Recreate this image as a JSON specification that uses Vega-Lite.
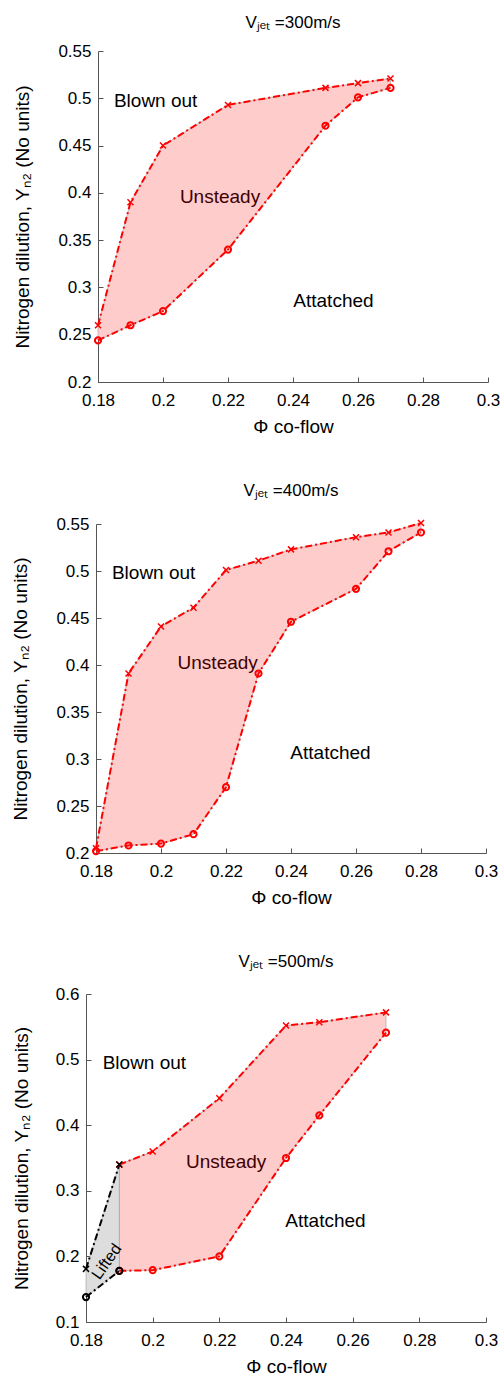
{
  "$schema": "https://vega.github.io/schema/vega-lite/v6.json",
  "background": "white",
  "padding": {"top": 14, "left": 11, "right": 0, "bottom": 0},
  "vconcat": [
    {
      "title": {"text": "Vⱼₑₜ =300m/s", "offset": 10, "dx": 6},
      "width": 402,
      "height": 331,
      "layer": [
        {
          "data": {"name": "bounds"},
          "transform": [{"filter": "datum.panel == '300'"}],
          "mark": {"type": "area", "fill": "#ffcccc", "stroke": "#9a9a9a", "strokeWidth": 0.6},
          "encoding": {
            "x": {"field": "phi", "type": "quantitative", "title": "Φ co-flow", "scale": {"domain": [0.18, 0.3], "range": [12, 402], "nice": false, "zero": false}, "axis": {"values": [0.18, 0.2, 0.22, 0.24, 0.26, 0.28, 0.3]}},
            "y": {"field": "upper", "type": "quantitative", "title": "Nitrogen dilution, Yₙ₂  (No units)", "scale": {"domain": [0.2, 0.55], "nice": false, "zero": false}, "axis": {"values": [0.2, 0.25, 0.3, 0.35, 0.4, 0.45, 0.5, 0.55], "offset": -12, "titlePadding": 25}},
            "y2": {"field": "lower"}
          }
        },
        {
          "data": {"name": "bounds"},
          "transform": [{"filter": "datum.panel == '300'"}],
          "mark": {"type": "line", "color": "#ff0000", "strokeWidth": 2, "strokeDash": [7, 3, 2, 3]},
          "encoding": {
            "x": {"field": "phi", "type": "quantitative", "title": "Φ co-flow"},
            "y": {"field": "upper", "type": "quantitative", "title": "Nitrogen dilution, Yₙ₂  (No units)"}
          }
        },
        {
          "data": {"name": "bounds"},
          "transform": [{"filter": "datum.panel == '300'"}],
          "mark": {"type": "line", "color": "#ff0000", "strokeWidth": 2, "strokeDash": [7, 3, 2, 3]},
          "encoding": {
            "x": {"field": "phi", "type": "quantitative", "title": "Φ co-flow"},
            "y": {"field": "lower", "type": "quantitative", "title": "Nitrogen dilution, Yₙ₂  (No units)"}
          }
        },
        {
          "data": {"name": "bounds"},
          "transform": [{"filter": "datum.panel == '300'"}],
          "mark": {"type": "point", "shape": "M-1,-1L1,1M-1,1L1,-1", "filled": false, "stroke": "#ff0000", "strokeWidth": 1.5, "size": 36, "opacity": 1},
          "encoding": {
            "x": {"field": "phi", "type": "quantitative", "title": "Φ co-flow"},
            "y": {"field": "upper", "type": "quantitative", "title": "Nitrogen dilution, Yₙ₂  (No units)"}
          }
        },
        {
          "data": {"name": "bounds"},
          "transform": [{"filter": "datum.panel == '300'"}],
          "mark": {"type": "point", "shape": "circle", "filled": false, "stroke": "#ff0000", "strokeWidth": 2, "size": 38, "opacity": 1},
          "encoding": {
            "x": {"field": "phi", "type": "quantitative", "title": "Φ co-flow"},
            "y": {"field": "lower", "type": "quantitative", "title": "Nitrogen dilution, Yₙ₂  (No units)"}
          }
        },
        {
          "data": {"name": "labels"},
          "transform": [{"filter": "datum.panel == '300'"}],
          "mark": {"type": "text", "align": "left", "baseline": "middle", "fontSize": 19, "font": "Liberation Sans"},
          "encoding": {
            "x": {"field": "phi", "type": "quantitative", "title": "Φ co-flow"},
            "y": {"field": "y", "type": "quantitative", "title": "Nitrogen dilution, Yₙ₂  (No units)"},
            "text": {"field": "label"},
            "color": {"field": "tone", "type": "nominal", "scale": {"domain": ["dark", "black"], "range": ["#400000", "#000000"]}, "legend": null}
          }
        }
      ]
    },
    {
      "title": {"text": "Vⱼₑₜ =400m/s", "offset": 15, "dx": 5},
      "width": 400,
      "height": 329,
      "layer": [
        {
          "data": {"name": "bounds"},
          "transform": [{"filter": "datum.panel == '400'"}],
          "mark": {"type": "area", "fill": "#ffcccc", "stroke": "#9a9a9a", "strokeWidth": 0.6},
          "encoding": {
            "x": {"field": "phi", "type": "quantitative", "title": "Φ co-flow", "scale": {"domain": [0.18, 0.3], "range": [10, 400], "nice": false, "zero": false}, "axis": {"values": [0.18, 0.2, 0.22, 0.24, 0.26, 0.28, 0.3]}},
            "y": {"field": "upper", "type": "quantitative", "title": "Nitrogen dilution, Yₙ₂  (No units)", "scale": {"domain": [0.2, 0.55], "nice": false, "zero": false}, "axis": {"values": [0.2, 0.25, 0.3, 0.35, 0.4, 0.45, 0.5, 0.55], "offset": -10, "titlePadding": 25}},
            "y2": {"field": "lower"}
          }
        },
        {
          "data": {"name": "bounds"},
          "transform": [{"filter": "datum.panel == '400'"}],
          "mark": {"type": "line", "color": "#ff0000", "strokeWidth": 2, "strokeDash": [7, 3, 2, 3]},
          "encoding": {
            "x": {"field": "phi", "type": "quantitative", "title": "Φ co-flow"},
            "y": {"field": "upper", "type": "quantitative", "title": "Nitrogen dilution, Yₙ₂  (No units)"}
          }
        },
        {
          "data": {"name": "bounds"},
          "transform": [{"filter": "datum.panel == '400'"}],
          "mark": {"type": "line", "color": "#ff0000", "strokeWidth": 2, "strokeDash": [7, 3, 2, 3]},
          "encoding": {
            "x": {"field": "phi", "type": "quantitative", "title": "Φ co-flow"},
            "y": {"field": "lower", "type": "quantitative", "title": "Nitrogen dilution, Yₙ₂  (No units)"}
          }
        },
        {
          "data": {"name": "bounds"},
          "transform": [{"filter": "datum.panel == '400'"}],
          "mark": {"type": "point", "shape": "M-1,-1L1,1M-1,1L1,-1", "filled": false, "stroke": "#ff0000", "strokeWidth": 1.5, "size": 36, "opacity": 1},
          "encoding": {
            "x": {"field": "phi", "type": "quantitative", "title": "Φ co-flow"},
            "y": {"field": "upper", "type": "quantitative", "title": "Nitrogen dilution, Yₙ₂  (No units)"}
          }
        },
        {
          "data": {"name": "bounds"},
          "transform": [{"filter": "datum.panel == '400'"}],
          "mark": {"type": "point", "shape": "circle", "filled": false, "stroke": "#ff0000", "strokeWidth": 2, "size": 38, "opacity": 1},
          "encoding": {
            "x": {"field": "phi", "type": "quantitative", "title": "Φ co-flow"},
            "y": {"field": "lower", "type": "quantitative", "title": "Nitrogen dilution, Yₙ₂  (No units)"}
          }
        },
        {
          "data": {"name": "labels"},
          "transform": [{"filter": "datum.panel == '400'"}],
          "mark": {"type": "text", "align": "left", "baseline": "middle", "fontSize": 19, "font": "Liberation Sans"},
          "encoding": {
            "x": {"field": "phi", "type": "quantitative", "title": "Φ co-flow"},
            "y": {"field": "y", "type": "quantitative", "title": "Nitrogen dilution, Yₙ₂  (No units)"},
            "text": {"field": "label"},
            "color": {"field": "tone", "type": "nominal", "scale": {"domain": ["dark", "black"], "range": ["#400000", "#000000"]}, "legend": null}
          }
        }
      ]
    },
    {
      "title": {"text": "Vⱼₑₜ =500m/s", "offset": 14},
      "width": 400,
      "height": 328,
      "layer": [
        {
          "data": {"name": "bounds"},
          "transform": [{"filter": "datum.panel == '500'"}],
          "mark": {"type": "area", "stroke": "#9a9a9a", "strokeWidth": 0.6},
          "encoding": {
            "x": {"field": "phi", "type": "quantitative", "title": "Φ co-flow", "scale": {"domain": [0.18, 0.3], "nice": false, "zero": false}, "axis": {"values": [0.18, 0.2, 0.22, 0.24, 0.26, 0.28, 0.3]}},
            "y": {"field": "upper", "type": "quantitative", "title": "Nitrogen dilution, Yₙ₂  (No units)", "scale": {"domain": [0.1, 0.6], "nice": false, "zero": false}, "axis": {"values": [0.1, 0.2, 0.3, 0.4, 0.5, 0.6], "titlePadding": 24}},
            "y2": {"field": "lower"},
            "fill": {"field": "region", "type": "nominal", "scale": {"domain": ["unsteady", "lifted"], "range": ["#ffcccc", "#dddddd"]}, "legend": null}
          }
        },
        {
          "data": {"name": "bounds"},
          "transform": [{"filter": "datum.panel == '500'"}],
          "mark": {"type": "line", "strokeWidth": 2, "strokeDash": [7, 3, 2, 3]},
          "encoding": {
            "x": {"field": "phi", "type": "quantitative", "title": "Φ co-flow"},
            "y": {"field": "upper", "type": "quantitative", "title": "Nitrogen dilution, Yₙ₂  (No units)"},
            "stroke": {"field": "region", "type": "nominal", "scale": {"domain": ["unsteady", "lifted"], "range": ["#ff0000", "#000000"]}, "legend": null}
          }
        },
        {
          "data": {"name": "bounds"},
          "transform": [{"filter": "datum.panel == '500'"}],
          "mark": {"type": "line", "strokeWidth": 2, "strokeDash": [7, 3, 2, 3]},
          "encoding": {
            "x": {"field": "phi", "type": "quantitative", "title": "Φ co-flow"},
            "y": {"field": "lower", "type": "quantitative", "title": "Nitrogen dilution, Yₙ₂  (No units)"},
            "stroke": {"field": "region", "type": "nominal", "scale": {"domain": ["unsteady", "lifted"], "range": ["#ff0000", "#000000"]}, "legend": null}
          }
        },
        {
          "data": {"name": "bounds"},
          "transform": [{"filter": "datum.panel == '500'"}],
          "mark": {"type": "point", "shape": "M-1,-1L1,1M-1,1L1,-1", "filled": false, "strokeWidth": 1.5, "size": 36, "opacity": 1},
          "encoding": {
            "x": {"field": "phi", "type": "quantitative", "title": "Φ co-flow"},
            "y": {"field": "upper", "type": "quantitative", "title": "Nitrogen dilution, Yₙ₂  (No units)"},
            "stroke": {"field": "region", "type": "nominal", "scale": {"domain": ["unsteady", "lifted"], "range": ["#ff0000", "#000000"]}, "legend": null}
          }
        },
        {
          "data": {"name": "bounds"},
          "transform": [{"filter": "datum.panel == '500'"}],
          "mark": {"type": "point", "shape": "circle", "filled": false, "strokeWidth": 2, "size": 38, "opacity": 1},
          "encoding": {
            "x": {"field": "phi", "type": "quantitative", "title": "Φ co-flow"},
            "y": {"field": "lower", "type": "quantitative", "title": "Nitrogen dilution, Yₙ₂  (No units)"},
            "stroke": {"field": "region", "type": "nominal", "scale": {"domain": ["unsteady", "lifted"], "range": ["#ff0000", "#000000"]}, "legend": null}
          }
        },
        {
          "data": {"name": "labels"},
          "transform": [{"filter": "datum.panel == '500' && datum.label != 'Lifted'"}],
          "mark": {"type": "text", "align": "left", "baseline": "middle", "fontSize": 19, "font": "Liberation Sans"},
          "encoding": {
            "x": {"field": "phi", "type": "quantitative", "title": "Φ co-flow"},
            "y": {"field": "y", "type": "quantitative", "title": "Nitrogen dilution, Yₙ₂  (No units)"},
            "text": {"field": "label"},
            "color": {"field": "tone", "type": "nominal", "scale": {"domain": ["dark", "black"], "range": ["#400000", "#000000"]}, "legend": null}
          }
        },
        {
          "data": {"name": "labels"},
          "transform": [{"filter": "datum.panel == '500' && datum.label == 'Lifted'"}],
          "mark": {"type": "text", "align": "center", "baseline": "middle", "fontSize": 16, "font": "Liberation Sans", "angle": -55, "color": "#000000"},
          "encoding": {
            "x": {"field": "phi", "type": "quantitative", "title": "Φ co-flow"},
            "y": {"field": "y", "type": "quantitative", "title": "Nitrogen dilution, Yₙ₂  (No units)"},
            "text": {"field": "label"}
          }
        }
      ]
    }
  ],
  "spacing": 46,
  "datasets": {
    "bounds": [
      {"panel": "300", "region": "unsteady", "phi": 0.18, "upper": 0.26, "lower": 0.244},
      {"panel": "300", "region": "unsteady", "phi": 0.19, "upper": 0.39, "lower": 0.26},
      {"panel": "300", "region": "unsteady", "phi": 0.2, "upper": 0.45, "lower": 0.275},
      {"panel": "300", "region": "unsteady", "phi": 0.22, "upper": 0.493, "lower": 0.34},
      {"panel": "300", "region": "unsteady", "phi": 0.25, "upper": 0.511, "lower": 0.471},
      {"panel": "300", "region": "unsteady", "phi": 0.26, "upper": 0.516, "lower": 0.501},
      {"panel": "300", "region": "unsteady", "phi": 0.27, "upper": 0.521, "lower": 0.511},
      {"panel": "400", "region": "unsteady", "phi": 0.18, "upper": 0.205, "lower": 0.202},
      {"panel": "400", "region": "unsteady", "phi": 0.19, "upper": 0.391, "lower": 0.208},
      {"panel": "400", "region": "unsteady", "phi": 0.2, "upper": 0.441, "lower": 0.21},
      {"panel": "400", "region": "unsteady", "phi": 0.21, "upper": 0.461, "lower": 0.22},
      {"panel": "400", "region": "unsteady", "phi": 0.22, "upper": 0.501, "lower": 0.27},
      {"panel": "400", "region": "unsteady", "phi": 0.23, "upper": 0.511, "lower": 0.391},
      {"panel": "400", "region": "unsteady", "phi": 0.24, "upper": 0.523, "lower": 0.446},
      {"panel": "400", "region": "unsteady", "phi": 0.26, "upper": 0.536, "lower": 0.481},
      {"panel": "400", "region": "unsteady", "phi": 0.27, "upper": 0.541, "lower": 0.521},
      {"panel": "400", "region": "unsteady", "phi": 0.28, "upper": 0.551, "lower": 0.541},
      {"panel": "500", "region": "unsteady", "phi": 0.19, "upper": 0.34, "lower": 0.178},
      {"panel": "500", "region": "unsteady", "phi": 0.2, "upper": 0.36, "lower": 0.179},
      {"panel": "500", "region": "unsteady", "phi": 0.22, "upper": 0.441, "lower": 0.2},
      {"panel": "500", "region": "unsteady", "phi": 0.24, "upper": 0.552, "lower": 0.35},
      {"panel": "500", "region": "unsteady", "phi": 0.25, "upper": 0.557, "lower": 0.415},
      {"panel": "500", "region": "unsteady", "phi": 0.27, "upper": 0.572, "lower": 0.541},
      {"panel": "500", "region": "lifted", "phi": 0.18, "upper": 0.181, "lower": 0.138},
      {"panel": "500", "region": "lifted", "phi": 0.19, "upper": 0.34, "lower": 0.178}
    ],
    "labels": [
      {"panel": "300", "label": "Blown out", "tone": "black", "phi": 0.1849, "y": 0.497},
      {"panel": "300", "label": "Unsteady", "tone": "dark", "phi": 0.2052, "y": 0.396},
      {"panel": "300", "label": "Attatched", "tone": "black", "phi": 0.2401, "y": 0.286},
      {"panel": "400", "label": "Blown out", "tone": "black", "phi": 0.1849, "y": 0.4975},
      {"panel": "400", "label": "Unsteady", "tone": "dark", "phi": 0.2051, "y": 0.4025},
      {"panel": "400", "label": "Attatched", "tone": "black", "phi": 0.2398, "y": 0.3067},
      {"panel": "500", "label": "Blown out", "tone": "black", "phi": 0.185, "y": 0.4953},
      {"panel": "500", "label": "Unsteady", "tone": "dark", "phi": 0.21, "y": 0.3444},
      {"panel": "500", "label": "Attatched", "tone": "black", "phi": 0.2398, "y": 0.2544},
      {"panel": "500", "label": "Lifted", "tone": "black", "phi": 0.1862, "y": 0.192}
    ]
  },
  "config": {
    "font": "Liberation Sans",
    "view": {"stroke": null},
    "title": {"fontSize": 17, "fontWeight": "normal", "font": "Liberation Sans", "color": "#000000", "anchor": "middle"},
    "axis": {
      "grid": false,
      "domainColor": "#555555",
      "tickColor": "#555555",
      "tickSize": -5,
      "labelFontSize": 17,
      "labelColor": "#000000",
      "labelFont": "Liberation Sans",
      "labelFlush": false,
      "labelOverlap": false,
      "labelBound": false,
      "format": ".2~f",
      "titleFontSize": 19,
      "titleFontWeight": "normal",
      "titleColor": "#000000",
      "titleFont": "Liberation Sans"
    },
    "axisX": {"labelPadding": 15, "titlePadding": 9},
    "axisY": {"labelPadding": 12, "titlePadding": 23}
  }
}
